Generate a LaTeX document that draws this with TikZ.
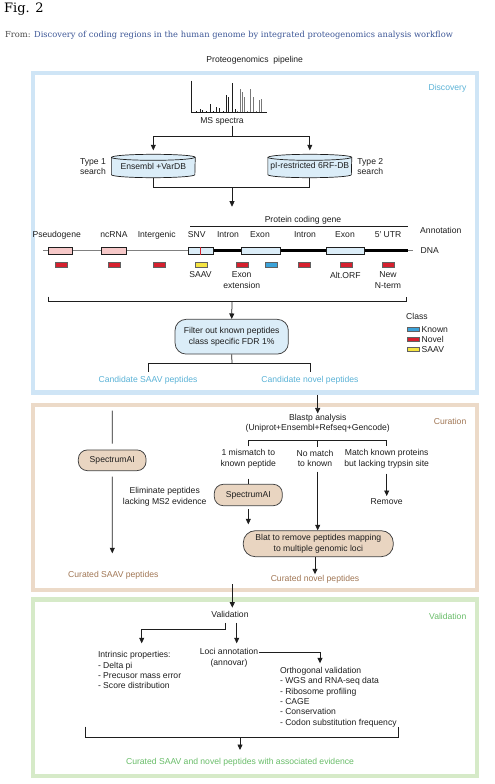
\documentclass[tikz,border=0pt]{standalone}
\usepackage{fontspec}
\setmainfont{Liberation Sans}
\newfontfamily\headfont{DejaVu Serif}
\usetikzlibrary{arrows.meta,backgrounds}
\definecolor{discB}{RGB}{207,229,246}
\definecolor{discT}{RGB}{90,178,214}
\definecolor{curB}{RGB}{236,218,200}
\definecolor{curT}{RGB}{160,118,84}
\definecolor{valB}{RGB}{214,234,200}
\definecolor{valT}{RGB}{104,188,104}
\definecolor{boxblue}{RGB}{219,237,248}
\definecolor{boxtan}{RGB}{233,213,193}
\definecolor{pinkbox}{RGB}{246,200,200}
\definecolor{redmark}{RGB}{214,32,46}
\definecolor{yelmark}{RGB}{245,228,66}
\definecolor{bluemark}{RGB}{60,163,217}
\definecolor{linkblue}{RGB}{60,86,150}
\definecolor{fromgray}{RGB}{70,70,70}
\definecolor{ink}{RGB}{30,30,30}
\begin{document}
\begin{tikzpicture}[x=1pt,y=-1pt, font=\fontsize{8.6}{10.3}\selectfont,
  txt/.style={inner sep=0.5pt, align=center, text=ink},
  con/.style={draw=ink, line width=0.75pt},
  arr/.style={con, -{Triangle[length=5.5pt,width=5pt]}},
  frame/.style={draw, line width=4.5pt, inner sep=0pt},
  pill/.style={draw=ink!85, line width=0.75pt, inner sep=0pt, align=center, text=ink},
  dnab/.style={draw=ink, line width=0.6pt, inner sep=0pt, minimum height=7pt},
  pep/.style={draw=ink!70, line width=0.4pt, inner sep=0pt, minimum width=12pt, minimum height=4.5pt},
  dbnode/.style={inner sep=0pt, text=ink, minimum width=83.5pt, minimum height=23pt},
]
\useasboundingbox (0,0) rectangle (495,784);

% header
\node[anchor=west, inner sep=0pt, font=\headfont\fontsize{13}{13}\selectfont] (fig) at (4,9) {Fig. 2};
\node[anchor=base west, inner sep=0pt, font=\headfont\fontsize{8.3}{9}\selectfont] (from) at (5,37.3)
  {\textcolor{fromgray}{From:} \textcolor{linkblue}{Discovery of coding regions in the human genome by integrated proteogenomics analysis workflow}};
\node[txt] (pipe) at (254.7,60) {Proteogenomics\ \ pipeline};

% frames
\node[frame, draw=discB, minimum width=444pt, minimum height=319.5pt] (disc) at (255,232.75) {};
\node[frame, draw=curB, minimum width=444pt, minimum height=185pt] (cur) at (255,497.5) {};
\node[frame, draw=valB, minimum width=444pt, minimum height=176.5pt] (valf) at (255,687.75) {};
\node[txt, anchor=east, text=discT] (discl) at (467,88) {Discovery};
\node[txt, anchor=east, text=curT] (curl) at (467,421.7) {Curation};
\node[txt, anchor=east, text=valT] (vall) at (467,616) {Validation};

% spectrum
\draw[line width=0.6pt, ink] (191.7,80.7) -- (191.7,112.3) -- (266.7,112.3);
\foreach \px/\py in {196/111, 200/109.3, 202.7/110, 206/110.5, 210/104, 213/110.5, 216.7/106.7, 219.3/108.3, 223/111, 226/95, 228.3/96.7, 232.7/83.3, 235/109.3}
  \draw[ink, line width=0.7pt] (\px,112.3) -- (\px,\py);
\foreach \px/\py in {237.5/110.5, 240/89.3, 242.3/91.7, 244/97.3, 247/110.5, 250/89.3, 253.3/96.7, 256/110.5, 259.3/100, 261.7/99.3}
  \draw[ink!60, line width=0.7pt] (\px,112.3) -- (\px,\py);
\node[txt] (ms) at (222,121) {MS spectra};

% databases
\coordinate (sp) at (232,136);
\node[dbnode] (db1) at (153.3,166) {\raisebox{-2.5pt}{Ensembl +VarDB}};
\node[dbnode] (db2) at (309.8,166) {\raisebox{-2.5pt}{pI-restricted 6RF-DB}};
\begin{scope}[on background layer]
\foreach \n in {db1,db2}{
  \draw[ink, line width=0.7pt, fill=boxblue] ([yshift=-3pt]\n.north west) -- ([yshift=3pt]\n.south west)
     arc[start angle=180,end angle=360,x radius=41.75pt,y radius=3pt] -- ([yshift=-3pt]\n.north east)
     arc[start angle=0,end angle=180,x radius=41.75pt,y radius=3pt] -- cycle;
  \draw[ink, line width=0.7pt] ([yshift=-3pt]\n.north west) arc[start angle=180,end angle=360,x radius=41.75pt,y radius=3pt];
}
\end{scope}
\draw[con] (ms.south -| sp) -- (sp);
\draw[con] (db1.north |- sp) -- (db2.north |- sp);
\draw[arr, shorten >=4pt] (db1.north |- sp) -- (db1.north);
\draw[arr, shorten >=4pt] (db2.north |- sp) -- (db2.north);
\node[txt, align=left, anchor=west] (ty1) at (79.3,166.7) {Type 1\\search};
\node[txt, align=left, anchor=west] (ty2) at (356.7,166.7) {Type 2\\search};
\coordinate (bk1) at (153.3,187.7);
\coordinate (bk2) at (309.8,187.7);
\coordinate (bkm) at (232,187.7);
\coordinate (ga) at (232,206.7);
\draw[con] (db1.south) -- (bk1) -- (bk2) -- (db2.south);
\draw[arr] (bkm) -- (ga);

% gene model
\node[txt] (pcg) at (303,220) {Protein coding gene};
\coordinate (pcl) at (190,226);
\coordinate (pcr) at (408,226);
\draw[con, line width=0.6pt] (pcl) -- (pcr);
\node[txt] (lpseudo) at (56.7,235) {Pseudogene};
\node[txt] (lnc) at (114,235) {ncRNA};
\node[txt] (linter) at (156.7,235) {Intergenic};
\node[txt] (lsnv) at (196.7,235) {SNV};
\node[txt] (lint1) at (228,235) {Intron};
\node[txt] (lex1) at (260,235) {Exon};
\node[txt] (lint2) at (305,235) {Intron};
\node[txt] (lex2) at (345,235) {Exon};
\node[txt] (lutr) at (388,235) {5′ UTR};
\node[txt] (annot) at (440.8,230) {Annotation};
\coordinate (dl) at (43,250.7);
\coordinate (dr) at (413,250.7);
\coordinate (tl) at (213,250.7);
\coordinate (tr) at (408,250.7);
\draw[gray, line width=0.8pt] (dl) -- (dr);
\draw[black, line width=2.6pt] (tl) -- (tr);
\node[txt, anchor=west] (dna) at (420,250.7) {DNA};
\node[dnab, fill=pinkbox, minimum width=24.7pt] (bx1) at (60.3,250.5) {};
\node[dnab, fill=pinkbox, minimum width=25pt] (bx2) at (114.2,250.5) {};
\node[dnab, fill=boxblue, minimum width=25pt] (bx3) at (200.5,250.7) {};
\draw[redmark, line width=0.9pt] ([xshift=-0.5pt]bx3.north) -- ([xshift=-0.5pt]bx3.south);
\node[dnab, fill=boxblue, minimum width=39pt] (bx4) at (260.5,250.7) {};
\node[dnab, fill=boxblue, minimum width=37.3pt] (bx5) at (345.3,250.7) {};
\foreach \nm/\x/\c in {pk1/60.8/redmark, pk2/114.5/redmark, pk3/159/redmark, pk4/200.8/yelmark, pk5/242.2/redmark, pk6/271.2/bluemark, pk7/304.5/redmark, pk8/346.3/redmark, pk9/387.8/redmark}
  \node[pep, fill=\c] (\nm) at (\x,264.7) {};
\node[txt] (lsaav) at (200.5,275) {SAAV};
\node[txt] (lext) at (241.7,280) {Exon\\extension};
\node[txt] (lalt) at (345.3,275) {Alt.ORF};
\node[txt] (lnew) at (388,280) {New\\N-term};
\coordinate (gb1) at (48.3,296.7);
\coordinate (gb2) at (48.3,301.7);
\coordinate (gb3) at (406.7,301.7);
\coordinate (gb4) at (406.7,296.7);
\coordinate (gbm) at (232,301.7);
\draw[con] (gb1) -- (gb2) -- (gb3) -- (gb4);

% filter
\node[pill, fill=boxblue, minimum width=113.3pt, minimum height=34.7pt, rounded corners=11pt] (filter) at (231.7,336.7) {Filter out known peptides\\class specific FDR 1\%};
\draw[arr] (gbm) -- (filter.north);
\coordinate (fs) at (232,363.3);
\draw[con] (filter.south) -- (fs);
\node[txt, text=discT] (csaav) at (148,380.3) {Candidate SAAV peptides};
\node[txt, text=discT] (cnov) at (310,380.3) {Candidate novel peptides};
\draw[con] ([yshift=4pt]csaav.north) |- (fs) -| ([yshift=4pt]cnov.north);

% legend
\node[txt, anchor=west] (cls) at (405.5,316.7) {Class};
\node[pep, fill=bluemark] (lk) at (413.3,329.3) {};
\node[pep, fill=redmark] (ln) at (413.3,339.3) {};
\node[pep, fill=yelmark] (ls) at (413.3,349.3) {};
\node[txt, anchor=west] (lkt) at (421,329.3) {Known};
\node[txt, anchor=west] (lnt) at (421,339.3) {Novel};
\node[txt, anchor=west] (lst) at (421,349.3) {SAAV};

% curation
\node[txt] (blast) at (317.7,423.3) {Blastp analysis\\(Uniprot+Ensembl+Refseq+Gencode)};
\draw[arr] (blast.north |- disc.south) -- (blast.north);
\node[txt] (m1) at (248.3,458.7) {1 mismatch to\\known peptide};
\node[txt] (m2) at (315,458.7) {No match\\to known};
\node[txt] (m3) at (386.7,458.7) {Match known proteins\\but lacking trypsin site};
\coordinate (bl) at (248.3,440);
\coordinate (br) at (386.7,440);
\coordinate (bm) at (317.7,440);
\draw[con] ([yshift=2.5pt]m1.north) |- (br) -- ([yshift=2.5pt]m3.north);
\draw[con] (bm) -- ([yshift=2.5pt]m2.north -| bm);
\node[pill, fill=boxtan, minimum width=68pt, minimum height=21.4pt, rounded corners=9pt] (sp2) at (248.3,495) {SpectrumAI};
\node[pill, fill=boxtan, minimum width=150pt, minimum height=26pt, rounded corners=12pt] (blat) at (318.3,543.7) {Blat to remove peptides mapping\\to multiple genomic loci};
\node[txt] (remove) at (386.7,501.7) {Remove};
\draw[con] ([yshift=-10pt]m1.south) -- (sp2.north);
\draw[arr] ([yshift=-3pt]sp2.south) -- ([yshift=6pt]sp2.south |- blat.north);
\draw[arr] ([yshift=-4pt]m2.south -| bm) -- (blat.north -| bm);
\draw[arr] ([yshift=-5pt]m3.south) -- ([yshift=2pt]remove.north);
\node[txt, text=curT] (cnp) at (315,579) {Curated novel peptides};
\draw[arr] (blat.south -| cnp) -- (cnp.north);
\coordinate (lt) at (112.3,410.7);
\node[pill, fill=boxtan, minimum width=67.7pt, minimum height=20.7pt, rounded corners=9pt] (sp1) at (112.2,460.3) {SpectrumAI};
\draw[con] (lt) -- ([yshift=6pt]sp1.north);
\coordinate (la) at (112.3,553.3);
\draw[arr] ([yshift=-5.5pt]sp1.south) -- (la);
\node[txt] (elim) at (164.7,496.7) {Eliminate peptides\\lacking MS2 evidence};
\node[txt, text=curT] (csp) at (113.3,575) {Curated SAAV peptides};

% validation
\node[txt] (val) at (230,614) {Validation};
\coordinate (cv) at (232.3,584);
\draw[arr] (cv) -- ([yshift=2.5pt]val.north -| cv);
\coordinate (vj) at (225,629.3);
\coordinate (ia) at (141.7,643.3);
\coordinate (la2) at (236.7,643.3);
\draw[arr] ([yshift=-5pt]val.south -| vj) -- (vj) -| (ia);
\draw[arr] ([yshift=-5pt]val.south -| la2) -- (la2);
\node[txt, align=left, anchor=north west] (intr) at (97.3,651) {Intrinsic properties:\\- Delta pi\\- Precusor mass error\\- Score distribution};
\node[txt] (loci) at (229,657.7) {Loci annotation\\(annovar)};
\coordinate (oa) at (320,663.3);
\draw[arr] ([yshift=-4.5pt]loci.north east) -| (oa);
\node[txt, align=left, anchor=north west] (orth) at (279.3,666.7) {Orthogonal validation\\- WGS and RNA-seq data\\- Ribosome profiling\\- CAGE\\- Conservation\\- Codon substitution frequency};
\coordinate (vb1) at (85,726.7);
\coordinate (vb2) at (85,737.7);
\coordinate (vb3) at (398.3,737.7);
\coordinate (vb4) at (398.3,726.7);
\coordinate (vbm) at (240,737.7);
\draw[con] (vb1) -- (vb2) -- (vb3) -- (vb4);
\node[txt, text=valT] (fin) at (240,762.7) {Curated SAAV and novel peptides with associated evidence};
\draw[arr] (vbm) -- ([yshift=8pt]fin.north);
\end{tikzpicture}
\end{document}
